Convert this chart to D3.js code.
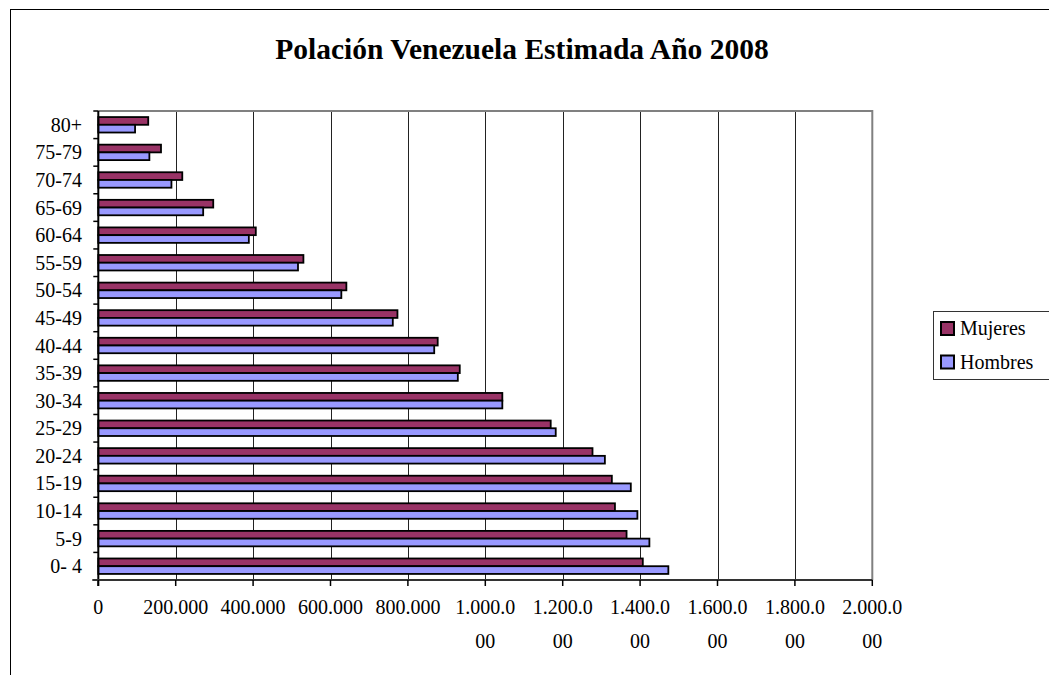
<!DOCTYPE html>
<html>
<head>
<meta charset="utf-8">
<script src="https://cdn.jsdelivr.net/npm/d3@7"></script>
<style>
  body { margin: 0; background: #fff; }
  text { font-family: "Liberation Serif", "DejaVu Serif", serif; fill: #000; }
</style>
</head>
<body>
<div id="chart"></div>
<script>
const ageGroups = ["80+", "75-79", "70-74", "65-69", "60-64", "55-59", "50-54", "45-49",
  "40-44", "35-39", "30-34", "25-29", "20-24", "15-19", "10-14", "5-9", "0- 4"];
const mujeres = [129000, 162000, 217000, 297000, 407000, 530000, 641000, 773000,
  877000, 934000, 1044000, 1169000, 1277000, 1327000, 1335000, 1365000, 1407000];
const hombres = [95000, 132000, 189000, 271000, 389000, 516000, 628000, 761000,
  868000, 929000, 1044000, 1182000, 1309000, 1376000, 1393000, 1424000, 1473000];
const seriesNames = ["Mujeres", "Hombres"];
const seriesColors = ["#993366", "#9999ff"];
const xTicks = [0, 200000, 400000, 600000, 800000, 1000000, 1200000, 1400000, 1600000, 1800000, 2000000];

const W = 1049, H = 675;
const plot = { left: 98.3, right: 872.3, top: 111, bottom: 580 };

const svg = d3.select("#chart").append("svg")
  .attr("width", W)
  .attr("height", H);

// outer frame
svg.append("rect")
  .attr("x", 10.5).attr("y", 9.5)
  .attr("width", W + 20).attr("height", H + 20)
  .attr("fill", "none").attr("stroke", "#000").attr("stroke-width", 1);

svg.append("text")
  .attr("x", 522).attr("y", 59)
  .attr("text-anchor", "middle")
  .style("font-size", "29.5px").style("font-weight", "bold")
  .text("Polación Venezuela Estimada Año 2008");

const x = d3.scaleLinear().domain([0, 2000000]).range([plot.left, plot.right]);
const y = d3.scaleBand().domain(ageGroups).range([plot.top, plot.bottom])
  .paddingInner(0.44).paddingOuter(0.22);

// gridlines
svg.append("g").selectAll("line")
  .data(xTicks.slice(1, -1))
  .join("line")
  .attr("x1", d => Math.round(x(d)) + 0.5).attr("x2", d => Math.round(x(d)) + 0.5)
  .attr("y1", plot.top).attr("y2", plot.bottom)
  .attr("stroke", "#222").attr("stroke-width", 1);

// plot area border top / right
svg.append("path")
  .attr("d", `M${plot.left},${plot.top}H${plot.right}V${plot.bottom}`)
  .attr("fill", "none").attr("stroke", "#808080").attr("stroke-width", 2);

// bars
const rows = ageGroups.map((g, i) => ({ g, vals: [mujeres[i], hombres[i]] }));
const half = y.bandwidth() / 2;
const grp = svg.append("g").selectAll("g")
  .data(rows)
  .join("g")
  .attr("transform", d => `translate(0,${y(d.g)})`);

grp.selectAll("rect")
  .data(d => d.vals.map((v, k) => ({ v, k })))
  .join("rect")
  .attr("x", x(0))
  .attr("y", d => d.k * half)
  .attr("width", d => x(d.v) - x(0))
  .attr("height", half)
  .attr("fill", d => seriesColors[d.k])
  .attr("stroke", "#000").attr("stroke-width", 1.8);

// y axis
const yAxis = svg.append("g");
yAxis.append("line")
  .attr("x1", plot.left).attr("x2", plot.left)
  .attr("y1", plot.top).attr("y2", plot.bottom + 6)
  .attr("stroke", "#000").attr("stroke-width", 2);
yAxis.selectAll(".tk")
  .data([plot.top].concat(ageGroups.slice(1).map(g => y(g) - y.step() * 0.22)).concat([plot.bottom]))
  .join("line")
  .attr("x1", plot.left - 5).attr("x2", plot.left)
  .attr("y1", d => d).attr("y2", d => d)
  .attr("stroke", "#000").attr("stroke-width", 1.5);
yAxis.selectAll("text")
  .data(ageGroups)
  .join("text")
  .attr("x", 82)
  .attr("y", d => y(d) + half)
  .attr("dy", "0.35em")
  .attr("text-anchor", "end")
  .style("font-size", "20px")
  .text(d => d);

// x axis
const xAxis = svg.append("g");
xAxis.append("line")
  .attr("x1", plot.left - 6).attr("x2", plot.right)
  .attr("y1", plot.bottom).attr("y2", plot.bottom)
  .attr("stroke", "#333").attr("stroke-width", 2);
xAxis.selectAll(".tk")
  .data(xTicks)
  .join("line")
  .attr("x1", d => x(d)).attr("x2", d => x(d))
  .attr("y1", plot.bottom).attr("y2", plot.bottom + 6)
  .attr("stroke", "#000").attr("stroke-width", 1.5);

const fmt = d => d3.format(",")(d).replace(/,/g, ".");
const lbl = xAxis.selectAll("text")
  .data(xTicks)
  .join("text")
  .attr("x", d => x(d))
  .attr("y", 614)
  .attr("text-anchor", "middle")
  .style("font-size", "20px");
lbl.each(function (d) {
  const s = fmt(d);
  const t = d3.select(this);
  t.append("tspan").attr("x", x(d)).text(s.slice(0, 7));
  if (s.length > 7) t.append("tspan").attr("x", x(d)).attr("dy", 34).text(s.slice(7));
});

// legend
const leg = svg.append("g");
leg.append("rect")
  .attr("x", 933.5).attr("y", 311.5)
  .attr("width", 130).attr("height", 68)
  .attr("fill", "#fff").attr("stroke", "#333").attr("stroke-width", 1);
seriesNames.forEach((name, i) => {
  leg.append("rect")
    .attr("x", 941).attr("y", 322 + i * 33.5)
    .attr("width", 13).attr("height", 13)
    .attr("fill", seriesColors[i]).attr("stroke", "#000").attr("stroke-width", 2);
  leg.append("text")
    .attr("x", 960).attr("y", 335 + i * 33.5)
    .style("font-size", "20px")
    .text(name);
});
</script>
</body>
</html>
